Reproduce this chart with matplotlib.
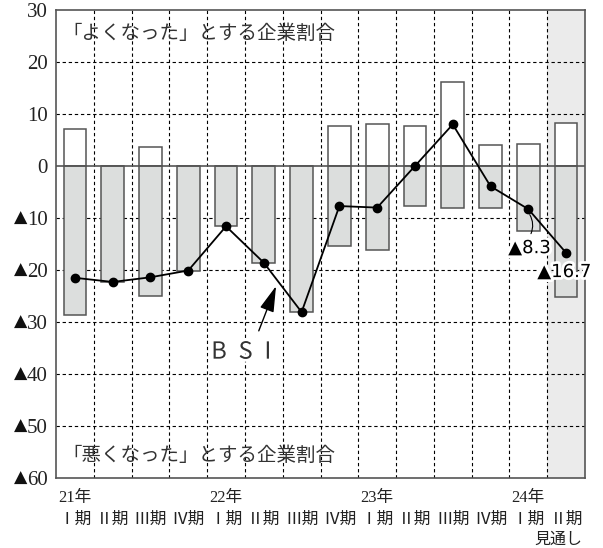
import matplotlib
matplotlib.use("Agg")
import matplotlib.pyplot as plt
import matplotlib.patheffects as pe

plt.rcParams['font.family'] = ['Noto Sans CJK JP', 'DejaVu Sans']

# data
periods = ['Ⅰ期', 'Ⅱ期', 'Ⅲ期', 'Ⅳ期', 'Ⅰ期', 'Ⅱ期', 'Ⅲ期', 'Ⅳ期',
           'Ⅰ期', 'Ⅱ期', 'Ⅲ期', 'Ⅳ期', 'Ⅰ期', 'Ⅱ期']
years = {0: '21年', 4: '22年', 8: '23年', 12: '24年'}
better = [7.2, 0, 3.6, 0, 0, 0, 0, 7.7, 8.0, 7.7, 16.1, 4.0, 4.2, 8.3]
worse = [-28.6, -22.3, -25.0, -20.1, -11.6, -18.6, -28.1,
         -15.4, -16.1, -7.7, -8.0, -8.0, -12.5, -25.1]
bsi = [-21.5, -22.3, -21.4, -20.1, -11.6, -18.6, -28.1,
       -7.7, -8.0, 0.0, 8.0, -3.9, -8.3, -16.7]
yticks = [30, 20, 10, 0, -10, -20, -30, -40, -50, -60]

fig = plt.figure(figsize=(6.03, 5.48), dpi=100)
ax = fig.add_axes([56/603, 70/548, 529/603, 468/548])

x = list(range(len(periods)))
edge = '#555555'
white_halo = [pe.withStroke(linewidth=4, foreground='white')]

# forecast column shading
ax.axvspan(12.5, 13.5, color='#ebebeb', zorder=0, lw=0)

ax.bar(x, better, width=0.6, color='white', edgecolor=edge, lw=1.1, zorder=3)
ax.bar(x, worse, width=0.6, color='#dcdedd', edgecolor=edge, lw=1.1, zorder=3)
ax.axhline(0, color=edge, lw=1.2, zorder=4)

ax.plot(x, bsi, color='black', lw=1.3, marker='o', ms=6, zorder=5)

ax.set_xlim(-0.5, 13.5)
ax.set_ylim(-60, 30)

# grid
for b in range(13):
    ax.axvline(b + 0.5, color='black', lw=0.8, ls=(0, (3, 2.5)), zorder=1)
for v in yticks[1:-1]:
    if v != 0:
        ax.axhline(v, color='black', lw=0.8, ls=(0, (3, 2.5)), zorder=1)

for s in ax.spines.values():
    s.set_color(edge)
    s.set_linewidth(1.2)

serif = ['Liberation Serif', 'Noto Sans CJK JP']
ax.set_yticks(yticks)
ax.set_yticklabels([str(abs(v)) for v in yticks])
for lab in ax.get_yticklabels():
    lab.set_fontfamily(serif)
    lab.set_fontsize(15)
    lab.set_color('#222222')
ax.tick_params(axis='y', length=0, pad=6)
ax.set_xticks([])
# minus values are written with a black triangle in front
for v in yticks:
    if v < 0:
        ax.annotate('▲', xy=(0, v), xycoords=('axes fraction', 'data'),
                    xytext=(-25.5, 0), textcoords='offset points',
                    ha='center', va='center', fontsize=12.5,
                    family='DejaVu Sans', color='#111111')

# x labels
for i, p in enumerate(periods):
    ax.annotate(p, xy=(i, 0), xycoords=('data', 'axes fraction'),
                xytext=(0, -30), textcoords='offset points',
                ha='center', va='center', fontsize=12, color='#222222')
for i, yname in years.items():
    ax.annotate(yname, xy=(i, 0), xycoords=('data', 'axes fraction'),
                xytext=(0, -14.5), textcoords='offset points',
                ha='center', va='center', fontsize=12, family=serif,
                color='#222222')
ax.annotate('見通し', xy=(13.42, 0), xycoords=('data', 'axes fraction'),
            xytext=(0, -44.5), textcoords='offset points',
            ha='right', va='center', fontsize=11.5, color='#222222')

# inside texts
ax.text(-0.34, 25.5, '「よくなった」とする企業割合', fontsize=14,
        ha='left', va='center', color='#333333')
ax.text(-0.34, -55.6, '「悪くなった」とする企業割合', fontsize=14,
        ha='left', va='center', color='#333333')

ax.text(4.4, -35.8, 'B\u2002S\u2002I', fontsize=17, ha='center', va='center',
        color='#333333', path_effects=white_halo, zorder=6)
ax.annotate('', xy=(5.35, -22.6), xytext=(4.84, -32.2),
            arrowprops=dict(arrowstyle='-|>,head_length=1.6,head_width=0.45',
                            color='black', lw=1.0), zorder=6)

ax.annotate('', xy=(12.0, -8.9), xytext=(12.04, -13.5),
            arrowprops=dict(arrowstyle='-', color='black', lw=0.8,
                            connectionstyle='arc3,rad=0.3'))
ax.text(12.03, -15.8, '▲8.3', family='DejaVu Sans', fontsize=13,
        ha='center', va='center', path_effects=white_halo, zorder=6)
t = ax.text(12.95, -20.4, '▲16.7', family='DejaVu Sans', fontsize=13,
            ha='center', va='center', zorder=6, path_effects=white_halo)
t.set_clip_on(False)

fig.savefig('out.png', dpi=100)
